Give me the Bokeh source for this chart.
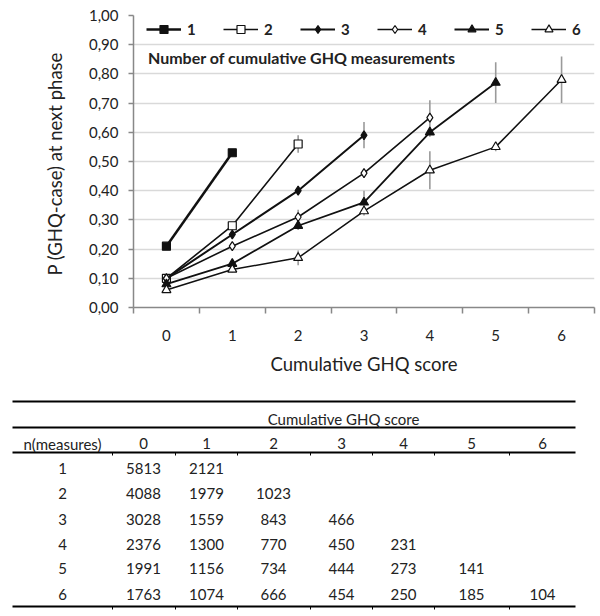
from bokeh.plotting import figure
from bokeh.models import (Range1d, FixedTicker, CustomJSTickFormatter, Label, Legend)
from bokeh.embed import file_html
from bokeh.resources import INLINE
from bokeh.core.properties import value

# ---------------- data ----------------
scores = [0, 1, 2, 3, 4, 5, 6]
series_names = ["1", "2", "3", "4", "5", "6"]

p1 = [0.21, 0.53]
p2 = [0.10, 0.28, 0.56]
p3 = [0.10, 0.25, 0.40, 0.59]
p4 = [0.10, 0.21, 0.31, 0.46, 0.65]
p5 = [0.08, 0.15, 0.28, 0.36, 0.60, 0.77]
p6 = [0.06, 0.13, 0.17, 0.33, 0.47, 0.55, 0.78]

e1 = [0.010, 0.012]
e2 = [0.008, 0.012, 0.030]
e3 = [0.008, 0.012, 0.015, 0.045]
e4 = [0.007, 0.012, 0.025, 0.015, 0.060]
e5 = [0.006, 0.012, 0.015, 0.040, 0.015, 0.070]
e6 = [0.006, 0.010, 0.025, 0.015, 0.065, 0.015, 0.080]

y_ticks = [0.0, 0.1, 0.2, 0.3, 0.4, 0.5, 0.6, 0.7, 0.8, 0.9, 1.0]

table_title = "Cumulative GHQ score"
row_header = "n(measures)"
n_measures = ["1", "2", "3", "4", "5", "6"]
n1 = [5813, 2121]
n2 = [4088, 1979, 1023]
n3 = [3028, 1559, 843, 466]
n4 = [2376, 1300, 770, 450, 231]
n5 = [1991, 1156, 734, 444, 273, 141]
n6 = [1763, 1074, 666, 454, 250, 185, 104]

FONT = "Lato"
TXT = "#222222"

# ---------------- chart ----------------
p = figure(width=600, height=390, output_backend="svg", toolbar_location=None,
           x_range=Range1d(-0.5, 6.5), y_range=Range1d(0, 1),
           min_border_left=133, min_border_right=6, min_border_top=15, min_border_bottom=83)
p.outline_line_color = None
p.xgrid.grid_line_color = None
p.ygrid.grid_line_color = "#d9d9d9"
p.ygrid.grid_line_width = 1.5

p.xaxis.ticker = FixedTicker(ticks=scores, minor_ticks=[s - 0.5 for s in scores] + [6.5])
p.xaxis.major_tick_line_color = None
p.xaxis.major_tick_out = 0
p.xaxis.minor_tick_in = 0
p.xaxis.minor_tick_out = 6
p.xaxis.minor_tick_line_color = "#888888"
p.xaxis.minor_tick_line_width = 1.5
p.xaxis.axis_line_color = "#888888"
p.xaxis.axis_line_width = 1.5
p.xaxis.major_label_standoff = 16
p.xaxis.axis_label = "Cumulative GHQ score"
p.xaxis.axis_label_standoff = 9

p.yaxis.ticker = FixedTicker(ticks=y_ticks)
p.yaxis.formatter = CustomJSTickFormatter(code="return tick.toFixed(2).replace('.', ',')")
p.yaxis.minor_tick_line_color = None
p.yaxis.major_tick_in = 0
p.yaxis.major_tick_out = 5
p.yaxis.major_tick_line_color = "#888888"
p.yaxis.major_tick_line_width = 1.5
p.yaxis.axis_line_color = "#888888"
p.yaxis.axis_line_width = 1.5
p.yaxis.major_label_standoff = 10
p.yaxis.axis_label = "P  (GHQ-case) at next phase"
p.yaxis.axis_label_standoff = 20

for ax in (p.xaxis, p.yaxis):
    ax.major_label_text_font = FONT
    ax.major_label_text_font_size = "15px"
    ax.major_label_text_color = TXT
    ax.axis_label_text_font = FONT
    ax.axis_label_text_font_size = "18.5px"
    ax.axis_label_text_font_style = "normal"
    ax.axis_label_text_color = TXT

series = [p1, p2, p3, p4, p5, p6]
errors = [e1, e2, e3, e4, e5, e6]
markers = ["square", "square", "diamond", "diamond", "triangle", "triangle"]
filled = [True, False, True, False, True, False]
msizes = [8, 8, 9, 9, 9, 9]
lwidths = [2.5, 1.6, 2.0, 1.6, 1.8, 1.5]

# error bars first
for vals, errs in zip(series, errors):
    xs = scores[:len(vals)]
    p.segment(x0=xs, x1=xs,
              y0=[v - e for v, e in zip(vals, errs)],
              y1=[v + e for v, e in zip(vals, errs)],
              line_color="#9a9a9a", line_width=1.6)

items = []
for name, vals, mk, fl, ms, lw in zip(series_names, series, markers, filled, msizes, lwidths):
    xs = scores[:len(vals)]
    r1 = p.line(xs, vals, line_color="#111111", line_width=lw)
    r2 = p.scatter(xs, vals, marker=mk, size=ms, line_color="#111111", line_width=1.2,
                   fill_color="#111111" if fl else "white")
    items.append((name, [r1, r2]))

legend = Legend(items=items, orientation="horizontal", location=(13, 268),
                background_fill_alpha=0, border_line_color=None,
                padding=0, margin=0, spacing=26, glyph_width=35, glyph_height=20,
                label_width=10, label_height=20,
                label_standoff=6, label_text_font=FONT, label_text_font_size="15px",
                label_text_font_style="bold", label_text_color=TXT)
p.add_layout(legend, "center")

p.add_layout(Label(x=-0.28, y=0.856, text="Number of cumulative GHQ measurements",
                   text_font=FONT, text_font_size="16px", text_font_style="bold",
                   text_color=TXT, text_baseline="middle"))

# ---------------- table ----------------
t = figure(width=600, height=226, output_backend="svg", toolbar_location=None,
           x_range=Range1d(0, 600), y_range=Range1d(616, 390),
           x_axis_type=None, y_axis_type=None,
           min_border_left=0, min_border_right=0, min_border_top=0, min_border_bottom=0)
t.outline_line_color = None
t.grid.grid_line_color = None

col_x = [143, 206, 273, 341, 403, 471, 542]
row_y = [468, 493, 519, 544, 568, 594]
bounds = [112, 175, 237, 310, 372, 434, 509]
left, right = 12, 575

t.segment(x0=[left] * 4, x1=[right] * 4, y0=[401, 427, 452, 606], y1=[401, 427, 452, 606],
          line_color="black", line_width=2)
t.segment(x0=bounds + bounds, x1=bounds + bounds,
          y0=[452] * 7 + [606] * 7, y1=[455] * 7 + [609] * 7,
          line_color="black", line_width=1)

tstyle = dict(text_font=value(FONT), text_font_size="15px", text_color=TXT,
              text_align="center", text_baseline="middle")
t.text(x=[343], y=[418], text=[table_title], **tstyle)
t.text(x=[62], y=[443], text=[row_header], **tstyle)
t.text(x=col_x, y=[443] * 7, text=[str(s) for s in scores], **tstyle)
t.text(x=[62] * 6, y=row_y, text=n_measures, **tstyle)
for row, yy in zip([n1, n2, n3, n4, n5, n6], row_y):
    t.text(x=col_x[:len(row)], y=[yy] * len(row), text=[str(v) for v in row], **tstyle)

open("out.html", "w").write(file_html([p, t], INLINE))
